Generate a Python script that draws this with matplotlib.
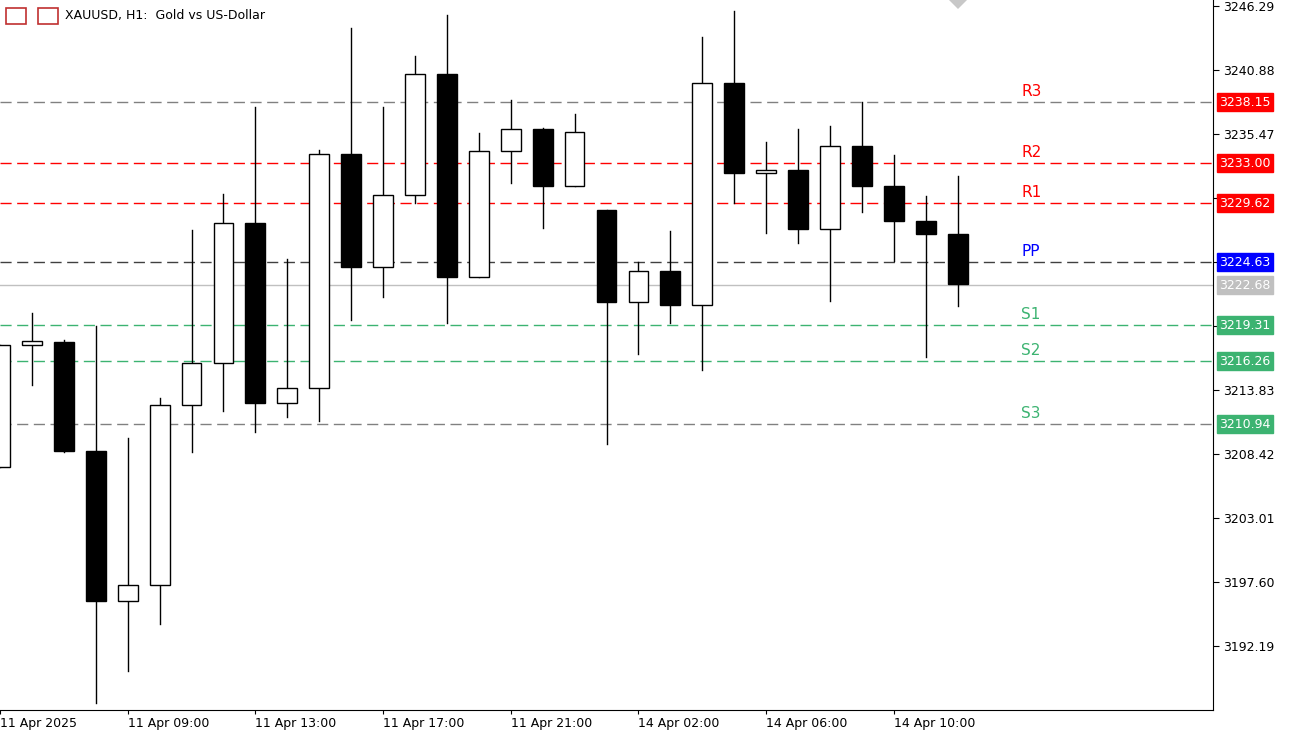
import matplotlib
matplotlib.use("Agg")
import matplotlib.pyplot as plt
from matplotlib.patches import Rectangle, Polygon

opens  = [3207.32,3217.6,3217.89,3208.67,3195.99,3197.35,3212.56,3216.11,3227.95,3212.73,3214.00,3233.78,3224.23,3230.31,3240.54,3223.38,3234.03,3235.89,3231.07,3229.05,3221.27,3223.89,3221.02,3239.78,3232.17,3232.43,3227.44,3234.46,3231.07,3228.12,3227.02]
highs  = [3217.63,3220.34,3218.06,3219.24,3209.77,3213.15,3227.36,3230.40,3237.75,3224.90,3234.12,3244.43,3237.75,3242.06,3245.53,3235.55,3238.34,3235.95,3237.16,3229.05,3224.65,3227.27,3243.67,3245.87,3234.79,3235.89,3236.15,3238.18,3233.70,3230.23,3231.92]
lows   = [3207.32,3214.25,3208.59,3187.37,3190.08,3194.05,3208.59,3212.05,3210.28,3211.55,3211.21,3219.75,3221.69,3229.64,3219.49,3223.38,3231.33,3227.52,3231.07,3209.27,3216.87,3219.49,3215.52,3229.64,3227.10,3226.26,3221.35,3228.88,3224.73,3216.62,3220.93]
closes = [3217.63,3218.0,3208.67,3195.99,3197.35,3212.56,3216.11,3227.95,3212.73,3214.00,3233.78,3224.23,3230.31,3240.54,3223.38,3234.03,3235.89,3231.07,3235.64,3221.27,3223.89,3221.02,3239.78,3232.17,3232.43,3227.44,3234.46,3231.07,3228.12,3227.02,3222.79]

level_names  = ["R3","R2","R1","PP","S1","S2","S3"]
level_values = [3238.15,3233.00,3229.62,3224.63,3219.31,3216.26,3210.94]
level_colors = ["#ff0000","#ff0000","#ff0000","#0000ff","#3cb371","#3cb371","#3cb371"]
line_colors  = ["#808080","#ff0000","#ff0000","#404040","#3cb371","#3cb371","#808080"]
current_price = 3222.68

price_ticks = [3246.29,3240.88,3235.47,3230.06,3224.65,3219.24,3213.83,3208.42,3203.01,3197.60,3192.19]
time_tick_idx = [0,4,8,12,16,20,24,28]
time_tick_lbl = ["11 Apr 2025","11 Apr 09:00","11 Apr 13:00","11 Apr 17:00","11 Apr 21:00","14 Apr 02:00","14 Apr 06:00","14 Apr 10:00"]

fig = plt.figure(figsize=(12.93,7.30), dpi=100)
ax = fig.add_axes([0, 20/730, 1213/1293, 710/730])
ax.set_xlim(0.1, 38.0)
ax.set_ylim(3186.78, 3246.80)

w = 0.62
for i,(o,h,l,c) in enumerate(zip(opens,highs,lows,closes)):
    ax.plot([i,i],[l,h],color="black",lw=1,zorder=3)
    bot, top = min(o,c), max(o,c)
    ax.add_patch(Rectangle((i-w/2,bot),w,max(top-bot,0.15),facecolor="black" if c<o else "white",
                           edgecolor="black",lw=1,zorder=4))

for n,v,tc,lc in zip(level_names,level_values,level_colors,line_colors):
    ax.axhline(v,color=lc,lw=1,ls=(0,(8,4)),zorder=1)
    ax.text(32.0,v+0.3,n,color=tc,fontsize=11,va="bottom",ha="left")
ax.axhline(current_price,color="#c0c0c0",lw=1,zorder=1)

hidden = {3230.06,3224.65,3219.24}
ax.set_yticks(price_ticks)
ax.yaxis.tick_right()
ax.set_yticklabels(["" if p in hidden else f"{p:.2f}" for p in price_ticks],fontsize=9)
ax.tick_params(axis="y",length=4,pad=3)
ax.set_xticks(time_tick_idx)
ax.set_xticklabels(time_tick_lbl,fontsize=9,ha="left")
ax.tick_params(axis="x",length=3,pad=2)
for s in ["top","left"]:
    ax.spines[s].set_visible(False)

def tag(v,txt,fc,tcol="white"):
    ax.text(1.005,v,txt,transform=ax.get_yaxis_transform(),fontsize=9,color=tcol,va="center",ha="left",
            bbox=dict(boxstyle="square,pad=0.2",fc=fc,ec=fc),zorder=10)
for v,c in zip(level_values,level_colors):
    tag(v,f"{v:.2f}",c)
tag(current_price,f"{current_price:.2f}","#c0c0c0")

fig.text(65/1293,1-16/730,"XAUUSD, H1:  Gold vs US-Dollar",fontsize=9,va="center")
fig.patches.append(Rectangle((6/1293,1-24/730),20/1293,16/730,transform=fig.transFigure,fc="white",ec="#c03030",lw=1.2))
fig.patches.append(Rectangle((38/1293,1-24/730),20/1293,16/730,transform=fig.transFigure,fc="white",ec="#c03030",lw=1.2))
fig.patches.append(Polygon([(949/1293,1),(967/1293,1),(958/1293,1-9/730)],closed=True,transform=fig.transFigure,fc="#c8c8c8",ec="none"))
fig.savefig("out.png",dpi=100)
